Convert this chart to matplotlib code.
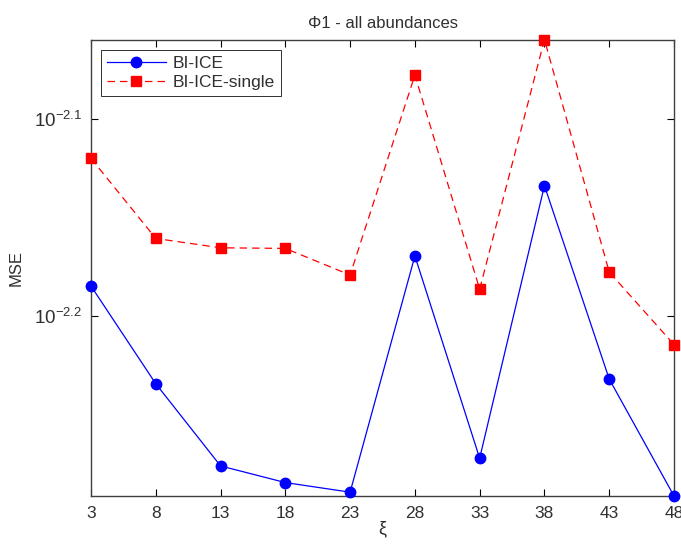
import numpy as np
import matplotlib.pyplot as plt

xi = [3, 8, 13, 18, 23, 28, 33, 38, 43, 48]
mse_bi_ice = [0.006534, 0.005829, 0.005295, 0.005193, 0.005135,
              0.006768, 0.005343, 0.007348, 0.005861, 0.005112]
mse_bi_ice_single = [0.007586, 0.006908, 0.006833, 0.006828, 0.006619,
                     0.008362, 0.006510, 0.008716, 0.006642, 0.006102]
ytick_exps = [-2.2, -2.1]

plt.rcParams['font.family'] = ['Liberation Sans', 'DejaVu Sans']
plt.rcParams['mathtext.fontset'] = 'custom'
plt.rcParams['mathtext.rm'] = 'Liberation Sans'
plt.rcParams['font.size'] = 12
txt = '#303030'

fig = plt.figure(figsize=(6.81, 5.44), dpi=100)
ax = fig.add_axes([91 / 681, 48 / 544, 583 / 681, 456 / 544])

ax.plot(xi, mse_bi_ice, 'b-o', lw=0.9, ms=7.5, label='BI-ICE', clip_on=False, zorder=3)
ax.plot(xi, mse_bi_ice_single, 'r--s', lw=0.9, ms=7, label='BI-ICE-single',
        clip_on=False, zorder=3, dashes=(6, 4))

ax.set_yscale('log')
ax.set_xlim(3, 48)
ax.set_ylim(10 ** -2.2914, 10 ** -2.0599)
ax.set_xticks(xi)
ax.set_yticks([10 ** e for e in ytick_exps])
ax.set_yticklabels([r'$\mathregular{10^{%g}}$' % e for e in ytick_exps])
ax.yaxis.set_minor_locator(plt.NullLocator())

ax.tick_params(direction='in', length=5, width=0.8, top=True, right=True,
               labelcolor=txt, labelsize=12.5, pad=7)
ax.tick_params(axis='y', labelsize=13.5, pad=6)
for s in ax.spines.values():
    s.set_color('#404040')
    s.set_linewidth(1.0)

ax.set_title('\u03a61 - all abundances', color=txt, fontsize=12, pad=9)
ax.set_xlabel('\u03be', color=txt, fontsize=13, labelpad=0)
ax.set_ylabel('MSE', color=txt, labelpad=8)

leg = ax.legend(loc='upper left', fontsize=12.5, fancybox=False, framealpha=1,
                edgecolor='#303030', borderaxespad=0.55, handlelength=3.4,
                handletextpad=0.4, borderpad=0.35, labelspacing=0.25)
leg.get_frame().set_linewidth(0.7)
for t in leg.get_texts():
    t.set_color(txt)

fig.savefig('out.png', dpi=100)
